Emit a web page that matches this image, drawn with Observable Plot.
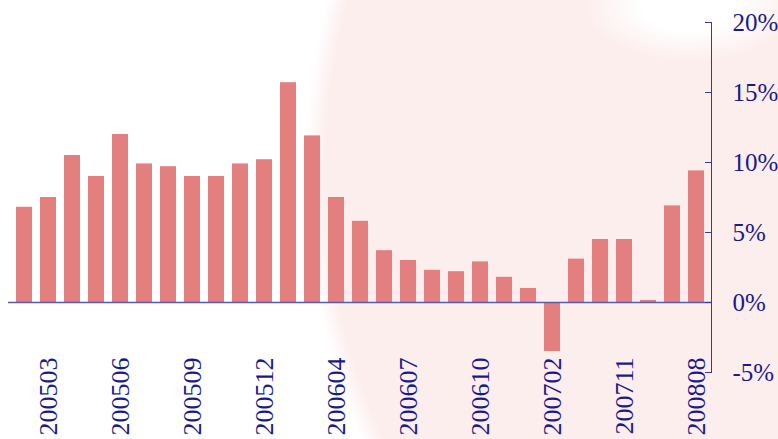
<!DOCTYPE html>
<html>
<head>
<meta charset="utf-8">
<script src="https://cdn.jsdelivr.net/npm/d3@7"></script>
<script src="https://cdn.jsdelivr.net/npm/@observablehq/plot@0.6"></script>
<style>
  html, body { margin: 0; padding: 0; }
  body {
    width: 778px; height: 439px; overflow: hidden;
    background:
      radial-gradient(ellipse 105px 55px at 690px 6px, rgba(255,255,255,1) 45%, rgba(255,255,255,0) 100%),
      radial-gradient(circle 668px at 973px 170px, #fdeeee 97%, #ffffff 100%);
  }
  #chart svg { display: block; }
</style>
</head>
<body>
<div id="chart"></div>
<script>
// Bar categories (year+month)
const months = [
  "200502","200503","200504","200505","200506","200507","200508","200509","200510","200511","200512",
  "200602","200603","200604","200605","200606","200607","200608","200609","200610","200611","200612",
  "200702","200705","200708","200711","200802","200805","200808"
];
// Values in percent
const values = [
  6.8, 7.5, 10.5, 9.0, 12.0, 9.9, 9.7, 9.0, 9.0, 9.9, 10.2,
  15.7, 11.9, 7.5, 5.8, 3.7, 3.0, 2.3, 2.2, 2.9, 1.8, 1.0,
  -3.5, 3.1, 4.5, 4.5, 0.15, 6.9, 9.4
];
// Tick labels shown on x axis
const xTickLabels = ["200503","200506","200509","200512","200604","200607","200610","200702","200711","200808"];
// Y ticks (percent)
const yTicks = [-5, 0, 5, 10, 15, 20];

const data = months.map((m, i) => ({month: m, value: values[i]}));

const navy = "#1a1a8a";
const axisLine = "#3a3a96";

const chart = Plot.plot({
  width: 778,
  height: 439,
  marginLeft: 8,
  marginRight: 67,
  marginTop: 22,
  marginBottom: 67,
  style: {background: "transparent", fontFamily: "'Liberation Serif', 'Times New Roman', serif", overflow: "visible"},
  x: {type: "band", domain: months, paddingInner: 0.34, paddingOuter: 0.23, label: null},
  y: {domain: [-5, 20], label: null},
  marks: [
    Plot.barY(data, {x: "month", y: "value", fill: "#e47f7f"}),
    Plot.ruleY([0], {stroke: "#5a5aa8", strokeWidth: 1.5}),
    Plot.frame({anchor: "right", stroke: axisLine}),
    Plot.axisY({anchor: "right", ticks: yTicks, tickSize: 7, dx: -7, fill: "none", stroke: axisLine, label: null}),
    Plot.axisY({anchor: "right", ticks: yTicks, tickSize: 0, tickPadding: 21, fill: navy, fontSize: 25, tickFormat: d => d + "%", label: null}),
    Plot.axisX({anchor: "bottom", ticks: xTickLabels, tickSize: 0, tickPadding: 0, tickRotate: -90, dy: -15, fill: navy, fontSize: 26, label: null})
  ]
});
document.getElementById("chart").appendChild(chart);
</script>
</body>
</html>
